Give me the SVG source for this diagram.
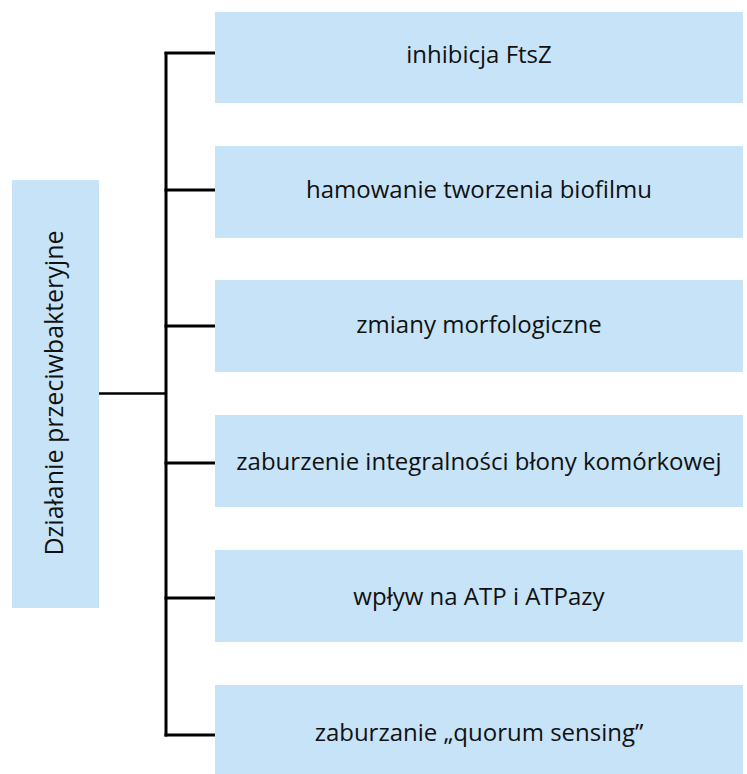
<svg xmlns="http://www.w3.org/2000/svg" width="747" height="774" viewBox="0 0 747 774">
  <style>
    .box { fill: #c6e3f8; }
    .lbl { font-family: "Open Sans", "Noto Sans", sans-serif; font-size: 24px; fill: #111111; text-anchor: middle; }
    .conn { stroke: #000; stroke-width: 3; fill: none; }
  </style>
  <rect width="747" height="774" fill="#ffffff"/>
  <g id="connectors">
    <line class="conn" x1="166" y1="52" x2="166" y2="736.5"/>
    <line class="conn" x1="164.5" y1="53" x2="215" y2="53"/>
    <line class="conn" x1="164.5" y1="190" x2="215" y2="190"/>
    <line class="conn" x1="164.5" y1="326" x2="215" y2="326"/>
    <line class="conn" x1="164.5" y1="463" x2="215" y2="463"/>
    <line class="conn" x1="164.5" y1="598" x2="215" y2="598"/>
    <line class="conn" x1="164.5" y1="735" x2="215" y2="735"/>
    <line class="conn" style="stroke-width:2.5" x1="99" y1="393.5" x2="166" y2="393.5"/>
  </g>
  <g id="root">
    <rect class="box" x="12" y="180" width="87" height="428"/>
    <text class="lbl" style="font-size:25px" transform="translate(63 393) rotate(-90)">Działanie przeciwbakteryjne</text>
  </g>
  <g id="n1">
    <rect class="box" x="215" y="12" width="528" height="91"/>
    <text class="lbl" x="479" y="63">inhibicja FtsZ</text>
  </g>
  <g id="n2">
    <rect class="box" x="215" y="146" width="528" height="92"/>
    <text class="lbl" x="479" y="198">hamowanie tworzenia biofilmu</text>
  </g>
  <g id="n3">
    <rect class="box" x="215" y="280" width="528" height="92"/>
    <text class="lbl" x="479" y="333">zmiany morfologiczne</text>
  </g>
  <g id="n4">
    <rect class="box" x="215" y="415" width="528" height="92"/>
    <text class="lbl" x="479" y="470">zaburzenie integralności błony komórkowej</text>
  </g>
  <g id="n5">
    <rect class="box" x="215" y="550" width="528" height="92"/>
    <text class="lbl" x="479" y="605">wpływ na ATP i ATPazy</text>
  </g>
  <g id="n6">
    <rect class="box" x="215" y="685" width="528" height="92"/>
    <text class="lbl" x="479" y="741">zaburzanie „quorum sensing”</text>
  </g>
</svg>
